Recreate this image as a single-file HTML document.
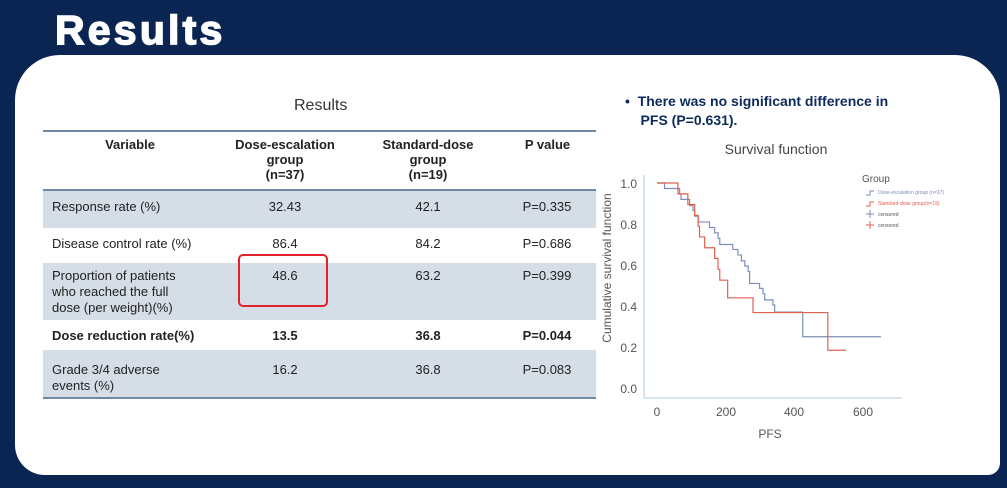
<!DOCTYPE html><html><head><style>
body{margin:0;width:1007px;height:488px;background:#0a2552;position:relative;overflow:hidden;font-family:"Liberation Sans",sans-serif}
.t{position:absolute;color:#fff;font-weight:bold;font-size:41px;left:55px;top:7px;letter-spacing:3.2px;-webkit-text-stroke:1.5px #fff}
.p{position:absolute;left:15px;top:55px;width:985px;height:420px;background:#fff;border-radius:45px 45px 12px 30px}
.a{position:absolute;font-size:13px;color:#222}
.r{position:absolute;left:43px;width:553px}
.c{position:absolute;font-size:13px;color:#222;text-align:center}
</style></head><body>
<div class="t">Results</div>
<div class="p"></div>
<div class="a" style="left:294px;top:97px;font-size:16px;color:#333">Results</div>
<div class="r" style="top:130px;height:2px;background:#6f88a8"></div>
<div class="r" style="top:189px;height:37px;background:#d5dde7;border-top:2px solid #6f88a8"></div>
<div class="r" style="top:263px;height:57px;background:#d5dde7"></div>
<div class="r" style="top:350px;height:47px;background:#d5dde7;border-bottom:2px solid #6f88a8"></div>
<div class="c" style="left:70px;width:120px;top:137px;font-weight:bold">Variable</div>
<div class="c" style="left:220px;width:130px;top:137px;font-weight:bold;line-height:15px">Dose-escalation<br>group<br>(n=37)</div>
<div class="c" style="left:363px;width:130px;top:137px;font-weight:bold;line-height:15px">Standard-dose<br>group<br>(n=19)</div>
<div class="c" style="left:500px;width:95px;top:137px;font-weight:bold">P value</div>
<div class="a" style="left:52px;top:199px">Response rate (%)</div>
<div class="c" style="left:230px;width:110px;top:199px">32.43</div><div class="c" style="left:373px;width:110px;top:199px">42.1</div><div class="c" style="left:497px;width:100px;top:199px">P=0.335</div>
<div class="a" style="left:52px;top:236px">Disease control rate (%)</div>
<div class="c" style="left:230px;width:110px;top:236px">86.4</div><div class="c" style="left:373px;width:110px;top:236px">84.2</div><div class="c" style="left:497px;width:100px;top:236px">P=0.686</div>
<div class="a" style="left:52px;top:268px;line-height:16px">Proportion of patients<br>who reached the full<br>dose (per weight)(%)</div>
<div class="c" style="left:230px;width:110px;top:268px">48.6</div><div class="c" style="left:373px;width:110px;top:268px">63.2</div><div class="c" style="left:497px;width:100px;top:268px">P=0.399</div>
<div style="position:absolute;left:238px;top:254px;width:86px;height:49px;border:2px solid #e0232a;border-radius:5px"></div>
<div class="a" style="left:52px;top:328px;font-weight:bold">Dose reduction rate(%)</div>
<div class="c" style="left:230px;width:110px;top:328px;font-weight:bold">13.5</div><div class="c" style="left:373px;width:110px;top:328px;font-weight:bold">36.8</div><div class="c" style="left:497px;width:100px;top:328px;font-weight:bold">P=0.044</div>
<div class="a" style="left:52px;top:362px;line-height:16px">Grade 3/4 adverse<br>events (%)</div>
<div class="c" style="left:230px;width:110px;top:362px">16.2</div><div class="c" style="left:373px;width:110px;top:362px">36.8</div><div class="c" style="left:497px;width:100px;top:362px">P=0.083</div>
<div class="a" style="left:625px;top:92px;font-weight:bold;font-size:14px;color:#0d2a5c;line-height:19px">•&nbsp; There was no significant difference in<br>&nbsp;&nbsp;&nbsp; PFS (P=0.631).</div>
<svg style="position:absolute;left:0;top:0" width="1007" height="488">
<text x="776" y="154" font-size="14" fill="#444" text-anchor="middle" font-family="Liberation Sans">Survival function</text>
<line x1="644" y1="175" x2="644" y2="398" stroke="#a9cfe0"/><line x1="644" y1="398" x2="902" y2="398" stroke="#a9cfe0"/>
<g font-size="12" fill="#555" font-family="Liberation Sans" text-anchor="end">
<text x="637" y="188">1.0</text><text x="637" y="229">0.8</text><text x="637" y="270">0.6</text><text x="637" y="311">0.4</text><text x="637" y="352">0.2</text><text x="637" y="393">0.0</text></g>
<g font-size="12" fill="#555" font-family="Liberation Sans" text-anchor="middle">
<text x="657" y="416">0</text><text x="726" y="416">200</text><text x="794" y="416">400</text><text x="863" y="416">600</text>
<text x="770" y="438">PFS</text>
<text transform="translate(611,268) rotate(-90)">Cumulative survival function</text></g>
<g transform="translate(657,388) scale(0.343,-205)" fill="none" stroke-width="1.2">
<path vector-effect="non-scaling-stroke" stroke="#7b8fb8" d="M0 1H22V.973H66V.946H70V.92H95V.89H105V.865H110V.838H120V.81H153V.783H168V.757H178V.73H183V.70H221V.676H236V.649H246V.62H256V.595H266V.568H270V.51H299V.486H309V.46H314V.43H338V.405H343V.37H425V.25H653"/>
<path vector-effect="non-scaling-stroke" stroke="#e0604e" d="M0 1H61V.947H90V.895H110V.842H120V.79H124V.737H139V.684H168V.632H178V.579H183V.526H206V.44H280V.368H498V.184H551"/>
</g>
<text x="862" y="182" font-size="10" fill="#555" font-family="Liberation Sans">Group</text>
<text x="878" y="194" font-size="5" fill="#7b8fb8" font-family="Liberation Sans">Dose-escalation group (n=37)</text>
<text x="878" y="205" font-size="5" fill="#e0604e" font-family="Liberation Sans">Standard-dose group(n=19)</text>
<text x="878" y="216" font-size="5" fill="#555" font-family="Liberation Sans">censored</text>
<text x="878" y="227" font-size="5" fill="#555" font-family="Liberation Sans">censored</text>
<path d="M866 195h4v-4h4M866 206h4v-4h4" fill="none" stroke="#7b8fb8"/>
<path d="M866 206h4v-4h4" fill="none" stroke="#e0604e"/>
<path d="M866 214h8M870 210v8" stroke="#7b8fb8"/><path d="M866 225h8M870 221v8" stroke="#e0604e"/>
</svg>
</body></html>
